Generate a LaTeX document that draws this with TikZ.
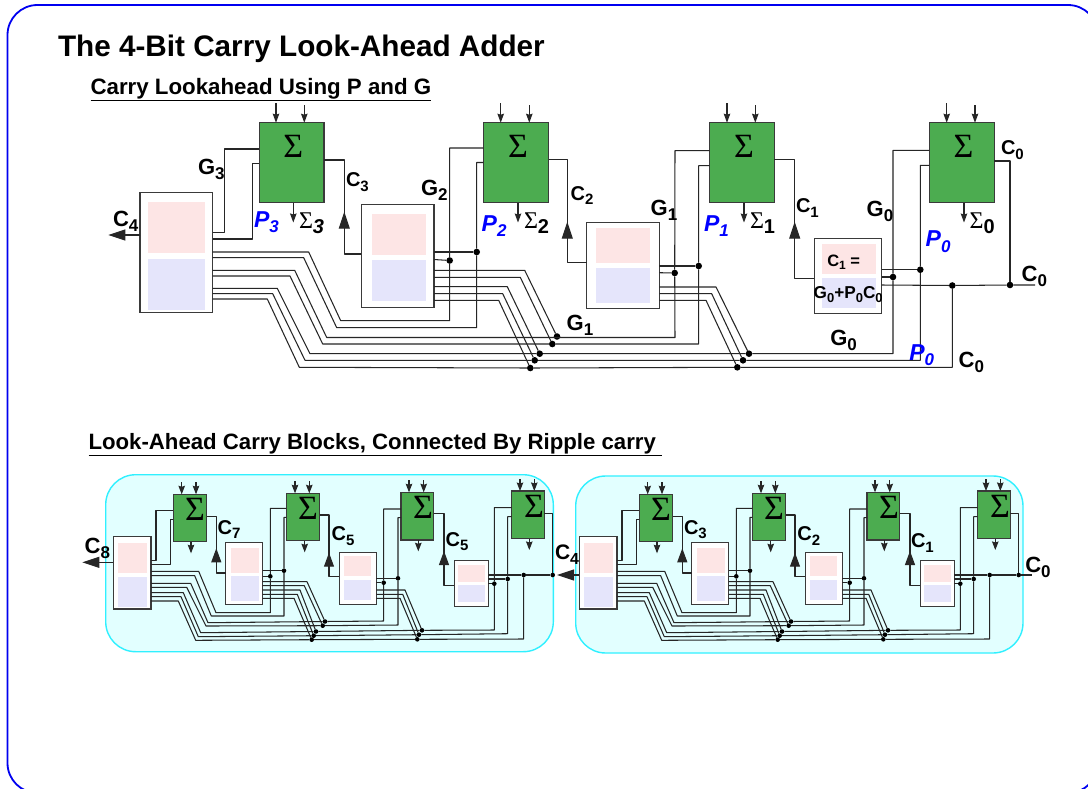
\documentclass[tikz,border=0pt]{standalone}
\usepackage{fontspec}
\setmainfont{Liberation Sans}
\newfontfamily\serifF{Liberation Serif}
\usetikzlibrary{arrows.meta}
\definecolor{frameblue}{HTML}{0000F0}
\definecolor{sumgreen}{HTML}{4CAC50}
\definecolor{edgegray}{HTML}{3A3A3A}
\definecolor{pinkfill}{HTML}{FDE5E5}
\definecolor{bluefill}{HTML}{E5E5FB}
\definecolor{panelfill}{HTML}{E2FFFF}
\definecolor{paneledge}{HTML}{30F0FF}
\tikzset{
  every node/.style={inner sep=0pt,outer sep=0pt},
  blockbox/.style={draw=edgegray,fill=white,line width=1.1pt},
  sumbox/.style={draw=edgegray,fill=sumgreen,line width=1.2pt},
  pinkbox/.style={fill=pinkfill},
  bluebox/.style={fill=bluefill},
  wire/.style={draw=black!85,line width=1.05pt,line join=round},
  smallin/.style={wire,-{Stealth[length=9pt,width=6.5pt,inset=1pt]}},
  tinyin/.style={wire,-{Stealth[length=8.5pt,width=6.5pt,inset=1pt]}},
  bigtip/.style={wire,-{Triangle[length=17pt,width=11pt]}},
  midtip/.style={wire,-{Triangle[length=14pt,width=10pt]}},
  bigdot/.style={circle,fill=black,minimum size=6.6pt},
  tinydot/.style={circle,fill=black,minimum size=4.6pt},
  lbl/.style={anchor=base west},
}
\newcommand\rn[6]{\node[#1,minimum width={(#5-#3)*1pt},minimum height={(#6-#4)*1pt}] (#2) at ({(#3+#5)/2},{(#4+#6)/2}) {};}
% name x1 y1 x2 y2
\newcommand\blk[5]{\rn{blockbox}{#1}{#2}{#3}{#4}{#5}}
% name px1 px2 py1 py2 by1 by2
\newcommand\tint[7]{\rn{pinkbox}{#1p}{#2}{#4}{#3}{#5}\rn{bluebox}{#1b}{#2}{#6}{#3}{#7}}
% name x1 y1 x2 y2 sigmax sigmay
\newcommand\sm[7]{\rn{sumbox}{#1}{#2}{#3}{#4}{#5}\node[font=\serifF\fontsize{34}{34}\selectfont] (#1s) at (#6,#7) {Σ};}
% name x y size main sub
\newcommand\lab[6]{\node[lbl,font=\bfseries\fontsize{#4}{#4}\selectfont] (#1) at (#2,#3) {#5\raisebox{-.24em}{\fontsize{\numexpr#4*3/4\relax}{#4}\selectfont #6}};}
\newcommand\plab[4]{\node[lbl,text=blue,font=\bfseries\itshape\fontsize{23}{23}\selectfont] (#1) at (#2,#3) {P\raisebox{-.24em}{\fontsize{17}{17}\selectfont #4}};}
\newcommand\slab[4]{\node[lbl,font=\fontsize{24}{24}\selectfont] (#1) at (#2,#3) {{\serifF Σ}\raisebox{-.2em}{\bfseries\fontsize{20}{20}\selectfont #4}};}
\newcommand\dt[4]{\node[#1] (#2) at (#3,#4) {};}
% prefix
\newcommand\lowerunit[1]{%
  \blk{#1B3}{113.3}{536.7}{151}{609}
  \tint{#1B3}{117.7}{146.7}{542.7}{573}{577}{607.3}
  \blk{#1B2}{225.7}{542.3}{262.7}{604.3}
  \tint{#1B2}{231.3}{258.7}{548}{573}{576.3}{600.7}
  \blk{#1B1}{339.3}{552.3}{376.3}{604.3}
  \tint{#1B1}{344}{371.3}{556}{576.3}{580}{600}
  \blk{#1B0}{454.3}{560.3}{488.3}{606.3}
  \tint{#1B0}{458.3}{485}{565}{582.3}{585}{602.3}
  \sm{#1S3}{173.3}{494.3}{206.7}{541.7}{195}{509}
  \sm{#1S2}{286.3}{493.3}{319.7}{540.7}{308}{508}
  \sm{#1S1}{401}{492.3}{433.7}{540}{423}{507}
  \sm{#1S0}{511.7}{491}{544.3}{538.7}{534}{506}
  % inputs and outputs of the sum boxes
  \foreach \nm/\xa/\xb/\ys/\xo/\yo in {S3/181.7/196/482.3/191/553.3,S2/295/309.3/481/304.7/552.3,S1/409/423.7/480/418.3/551.3,S0/520/534.3/479.3/529.3/550}{
    \draw[tinyin] (\xa,\ys) -- (\xa,0 |- #1\nm.north);
    \draw[tinyin] (\xb,\ys) -- (\xb,0 |- #1\nm.north);
    \draw[tinyin] (\xo,0 |- #1\nm.south) -- (\xo,\yo);
  }
  % dots
  \dt{tinydot}{#1d1}{284}{570.7}\dt{tinydot}{#1d2}{270.3}{576.3}
  \dt{tinydot}{#1d3}{325}{621.5}\dt{tinydot}{#1d4}{322.7}{625.7}
  \dt{tinydot}{#1d5}{316}{631.5}\dt{tinydot}{#1d6}{313.7}{635.7}\dt{tinydot}{#1d7}{311.7}{639.7}
  \dt{tinydot}{#1e1}{398}{578.3}\dt{tinydot}{#1e2}{383.7}{582.7}
  \dt{tinydot}{#1e5}{422}{630.3}\dt{tinydot}{#1e6}{419}{634.7}\dt{tinydot}{#1e7}{417.3}{639.3}
  \dt{tinydot}{#1f1}{507.7}{579}\dt{tinydot}{#1f2}{494.3}{583.7}\dt{tinydot}{#1f3}{523.7}{575}
  \dt{tinydot}{#1f4}{552.7}{575}
  % B3 to the sum boxes
  \draw[wire] (#1B3.east |- 0,560.3) -| (156,510.3) -- (#1S3.west |- 0,510.3);
  \draw[wire] (#1B3.east |- 0,564.3) -| (170.7,519.3) -- (#1S3.west |- 0,519.3);
  \draw[wire] (#1B3.east |- 0,571.3) -- (198.7,571.3) -- (216,612.7) -- (270.3,612.7) -- (#1d2) -- (270.3,508.3) -- (#1S2.west |- 0,508.3);
  \draw[wire] (#1B3.east |- 0,575.7) -- (194.7,575.7) -- (211.3,616) -- (284,616) -- (#1d1) -- (284,517.3) -- (#1S2.west |- 0,517.3);
  \draw[wire] (#1B3.east |- 0,583.3) -- (190.7,583.3) -- (208,622.7) -- (#1d3) -- (383.7,621) -- (#1e2) -- (383.7,509) -- (#1S1.west |- 0,509);
  \draw[wire] (#1B3.east |- 0,587.3) -- (186.7,587.3) -- (206,626) -- (#1d4) -- (398,625) -- (#1e1) -- (398,517.7) -- (#1S1.west |- 0,517.7);
  \draw[wire] (#1B3.east |- 0,592.7) -- (183.3,592.7) -- (200.7,632.7) -- (#1d5) -- (#1e5) -- (494.3,630) -- (#1f2) -- (494.3,507.7) -- (#1S0.west |- 0,507.7);
  \draw[wire] (#1B3.east |- 0,596.7) -- (181,596.7) -- (198.3,636.7) -- (#1d6) -- (#1e6) -- (507.7,633.7) -- (#1f1) -- (507.7,516.7) -- (#1S0.west |- 0,516.7);
  \draw[wire] (#1B3.east |- 0,601) -- (178.3,601) -- (195.7,640.3) -- (#1d7) -- (#1e7) -- (523.7,639) -- (#1f3);
  % B2 outputs
  \draw[wire] (#1B2.east |- 0,570.7) -- (#1d1);
  \draw[wire] (#1B2.east |- 0,576.3) -- (#1d2);
  \draw[wire] (#1B2.east |- 0,581.7) -- (307,581.7) -- (#1d3);
  \draw[wire] (#1B2.east |- 0,585.7) -- (304.3,585.7) -- (#1d4);
  \draw[wire] (#1B2.east |- 0,590) -- (300,590) -- (#1d5);
  \draw[wire] (#1B2.east |- 0,594.3) -- (297.3,594.3) -- (#1d6);
  \draw[wire] (#1B2.east |- 0,598.3) -- (294,598.3) -- (#1d7);
  % B1 outputs
  \draw[wire] (#1B1.east |- 0,578.3) -- (#1e1);
  \draw[wire] (#1B1.east |- 0,582.7) -- (#1e2);
  \draw[wire] (#1B1.east |- 0,590) -- (405,590) -- (#1e5);
  \draw[wire] (#1B1.east |- 0,594.3) -- (402.7,594.3) -- (#1e6);
  \draw[wire] (#1B1.east |- 0,598.3) -- (400,598.3) -- (#1e7);
  % B0 outputs
  \draw[wire] (#1B0.east |- 0,575) -- (#1f3) -- (#1f4);
  \draw[wire] (#1B0.east |- 0,579) -- (#1f1);
  \draw[wire] (#1B0.east |- 0,583.7) -- (#1f2);
  \draw[wire] (#1S0.east |- 0,513.7) -| (#1f4);
  % carries
  \draw[wire] (#1S3.east |- 0,516.3) -| (216.3,573) -- (#1B2.west |- 0,573);
  \draw[midtip] (216.3,563) -- (216.3,548.3);
  \draw[wire] (#1S2.east |- 0,515) -| (329,576.7) -- (#1B1.west |- 0,576.7);
  \draw[midtip] (329,568) -- (329,552.7);
  \draw[wire] (#1S1.east |- 0,513.7) -| (444,585.7) -- (#1B0.west |- 0,585.7);
  \draw[midtip] (444,567.3) -- (444,551);
}
\begin{document}
\begin{tikzpicture}[x=1pt,y=-1pt]
\useasboundingbox (0,0) rectangle (1088,788);
\clip (0,0) rectangle (1088,788);
\fill[white] (0,0) rectangle (1088,788);
\draw[frameblue,line width=1.8pt,rounded corners=30pt] (7.5,5) rectangle (1098,793);
\node[lbl,font=\bfseries\fontsize{29.7}{30}\selectfont] (title) at (58,56) {The 4-Bit Carry Look-Ahead Adder};
\node[lbl,font=\bfseries\fontsize{22.3}{23}\selectfont] (sec1) at (90.5,94) {\underline{Carry Lookahead Using P and G}};
\node[lbl,font=\bfseries\fontsize{22.2}{23}\selectfont] (sec2) at (88.5,449) {\underline{Look-Ahead Carry Blocks, Connected By Ripple carry\ }};
% ---- upper adder
\blk{B3}{140}{192.7}{212.6}{312.7}
\tint{B3}{148}{205}{202}{253}{259}{310}
\blk{B2}{361.3}{204.3}{434}{307.3}
\tint{B2}{372}{426}{214}{255}{260}{301}
\blk{B1}{586.7}{222.3}{659.3}{308.3}
\tint{B1}{596}{650}{228}{263}{268}{303}
\blk{B0}{814.3}{238.3}{881.7}{313.3}
\tint{B0}{822}{876}{244}{274}{278}{308}
\sm{S3}{259.3}{122.7}{324}{202.7}{293.3}{146}
\sm{S2}{483.3}{122.7}{548.7}{202.7}{518}{146}
\sm{S1}{709.7}{122.7}{774.3}{202.7}{744}{146}
\sm{S0}{929.3}{122.7}{994.3}{202.7}{963.5}{146}
\foreach \nm/\xa/\xb/\xo in {S3/276/304.3/293.3,S2/500.7/529.3/518,S1/727/755.3/744,S0/946.7/975/964}{
  \draw[smallin] (\xa,103.3) -- (\xa,0 |- \nm.north);
  \draw[smallin] (\xb,105) -- (\xb,0 |- \nm.north);
  \draw[smallin] (\xo,0 |- \nm.south) -- (\xo,222.5);
}
\dt{bigdot}{a1}{476.7}{252}\dt{bigdot}{a2}{449.7}{260.5}
\dt{bigdot}{a3}{557}{336.5}\dt{bigdot}{a4}{552.3}{344}
\dt{bigdot}{a5}{539.7}{353.7}\dt{bigdot}{a6}{534.7}{360.3}\dt{bigdot}{a7}{530.3}{368}
\dt{bigdot}{b1}{698.7}{266}\dt{bigdot}{b2}{674.7}{273}
\dt{bigdot}{b5}{749}{353.7}\dt{bigdot}{b6}{743}{360.3}\dt{bigdot}{b7}{737.3}{367.3}
\dt{bigdot}{c1}{920.3}{269.7}\dt{bigdot}{c2}{893}{277}\dt{bigdot}{c3}{952.3}{285.5}
\dt{bigdot}{c4}{1010}{285}
\coordinate (c0end) at (1035,285);
\draw[wire] (B3.east |- 0,232.3) -| (224.7,149) -- (S3.west |- 0,149);
\draw[wire] (B3.east |- 0,239) -| (252.7,163.7) -- (S3.west |- 0,163.7);
\draw[wire] (B3.east |- 0,252) -- (308.7,252) -- (340.7,320.7) -- (449.7,320.7) -- (a2) -- (449.7,148) -- (S2.west |- 0,148);
\draw[wire] (B3.east |- 0,257.7) -- (303.7,257.7) -- (336.7,327.7) -- (476.7,327.7) -- (a1) -- (476.7,162.5) -- (S2.west |- 0,162.5);
\draw[wire] (B3.east |- 0,270.3) -- (294.7,270.3) -- (326.7,337.5) -- (675,337.5) -- (b2) -- (675,150.7) -- (S1.west |- 0,150.7);
\draw[wire] (B3.east |- 0,276) -- (290,276) -- (322.7,344) -- (a4) -- (698.7,344) -- (b1) -- (698.7,165.7) -- (S1.west |- 0,165.7);
\draw[wire] (B3.east |- 0,288.3) -- (277.3,288.3) -- (310,353.7) -- (a5) -- (b5) -- (893,353.7) -- (c2) -- (893,150.3) -- (S0.west |- 0,150.3);
\draw[wire] (B3.east |- 0,293.7) -- (272.7,293.7) -- (305,360.3) -- (a6) -- (b6) -- (920.3,360.3) -- (c1) -- (920.3,165.3) -- (S0.west |- 0,165.3);
\draw[wire] (B3.east |- 0,299) -- (267.3,299) -- (299.3,367.3) -- (a7) -- (b7) -- (952.3,367.3) -- (c3);
\draw[wire] (B2.east |- 0,252) -- (a1);
\draw[wire] (B2.east |- 0,259.5) -- (a2);
\draw[wire] (B2.east |- 0,270.3) -- (524.7,270.3) -- (a3);
\draw[wire] (B2.east |- 0,277.3) -- (520.3,277.3) -- (a4);
\draw[wire] (B2.east |- 0,286.7) -- (507.3,286.7) -- (a5);
\draw[wire] (B2.east |- 0,293.7) -- (502.7,293.7) -- (a6);
\draw[wire] (B2.east |- 0,300.3) -- (498.7,300.3) -- (a7);
\draw[wire] (B1.east |- 0,266) -- (b1);
\draw[wire] (B1.east |- 0,272.7) -- (b2);
\draw[wire] (B1.east |- 0,287) -- (716,287) -- (b5);
\draw[wire] (B1.east |- 0,293.7) -- (711.7,293.7) -- (b6);
\draw[wire] (B1.east |- 0,300.3) -- (706,300.3) -- (b7);
\draw[wire] (B0.east |- 0,269.7) -- (c1);
\draw[wire] (B0.east |- 0,277) -- (c2);
\draw[wire] (B0.east |- 0,285) -- (c3) -- (c4) -- (c0end);
\draw[wire] (S0.east |- 0,161) -| (c4);
\draw[wire] (S3.east |- 0,160) -| (344.3,254) -- (B2.west |- 0,254);
\draw[bigtip] (344.3,229) -- (344.3,211.7);
\draw[wire] (S2.east |- 0,159.3) -| (567.3,262.3) -- (B1.west |- 0,262.3);
\draw[bigtip] (567.3,239) -- (567.3,221.7);
\draw[wire] (S1.east |- 0,159.3) -| (794.7,278.7) -- (B0.west |- 0,278.7);
\draw[bigtip] (794.7,239) -- (794.7,221.7);
\coordinate (c4tip) at (108.3,235);
\draw[bigtip] (B3.west |- c4tip) -- (c4tip);
% labels
\lab{lc4}{113}{226}{22}{C}{4}
\lab{lg3}{198}{174}{22}{G}{3}
\lab{lc3}{346}{186.7}{20}{C}{3}
\lab{lg2}{421}{195}{22}{G}{2}
\lab{lc2}{570.7}{200}{20}{C}{2}
\lab{lg1}{650.7}{215.7}{22}{G}{1}
\lab{lg1b}{566.7}{330}{22}{G}{1}
\lab{lc1}{796}{212.3}{20}{C}{1}
\lab{lg0}{866.7}{216}{22}{G}{0}
\lab{lg0b}{830.3}{345}{22}{G}{0}
\lab{lc0a}{1001}{154.3}{20}{C}{0}
\lab{lc0b}{1021.7}{281}{22}{C}{0}
\lab{lc0c}{958.7}{367.3}{22}{C}{0}
\plab{p3}{254}{227}{3}
\plab{p2}{481.7}{231}{2}
\plab{p1}{704}{231}{1}
\plab{p0a}{925.7}{246.7}{0}
\plab{p0b}{909.3}{360}{0}
\slab{s3}{299}{228.3}{\itshape 3}
\slab{s2}{524}{228.3}{2}
\slab{s1}{750}{228.3}{1}
\slab{s0}{969.7}{228.3}{0}
\node[lbl,font=\bfseries\fontsize{16.5}{16.5}\selectfont] (eq1) at (827.3,266) {C\raisebox{-.24em}{\fontsize{12}{12}\selectfont 1} =};
\node[lbl,font=\bfseries\fontsize{17.2}{17.2}\selectfont] (eq2) at (813.7,298.3) {G\raisebox{-.24em}{\fontsize{13}{13}\selectfont 0}+P\raisebox{-.24em}{\fontsize{13}{13}\selectfont 0}C\raisebox{-.24em}{\fontsize{13}{13}\selectfont 0}};
% ---- lower adders
\path[fill=panelfill,draw=paneledge,line width=1.4pt,rounded corners=30pt] (105.7,474.7) rectangle (553.3,651.7);
\path[fill=panelfill,draw=paneledge,line width=1.4pt,rounded corners=30pt] (575.7,476) rectangle (1023,653);
\lowerunit{L}
\begin{scope}[xshift=466pt]
\lowerunit{R}
\end{scope}
\coordinate (c8tip) at (82.3,562.3);
\draw[bigtip] (LB3.west |- c8tip) -- (c8tip);
\draw[bigtip] (RB3.west |- Lf4) -- (557,0 |- Lf4);
\coordinate (c0rend) at (1031.7,575);
\draw[wire] (Rf4) -- (c0rend);
\lab{l8}{84.7}{553.3}{22}{C}{8}
\lab{l7}{217.7}{534}{20}{C}{7}
\lab{l5a}{331.7}{540.7}{20}{C}{5}
\lab{l5b}{445.7}{546}{20}{C}{5}
\lab{l4}{555}{559.3}{21}{C}{4}
\lab{r3}{684}{534}{20}{C}{3}
\lab{r2}{797.3}{540.7}{20}{C}{2}
\lab{r1}{911}{547.7}{20}{C}{1}
\lab{r0}{1025.3}{572.7}{22}{C}{0}
\end{tikzpicture}
\end{document}
